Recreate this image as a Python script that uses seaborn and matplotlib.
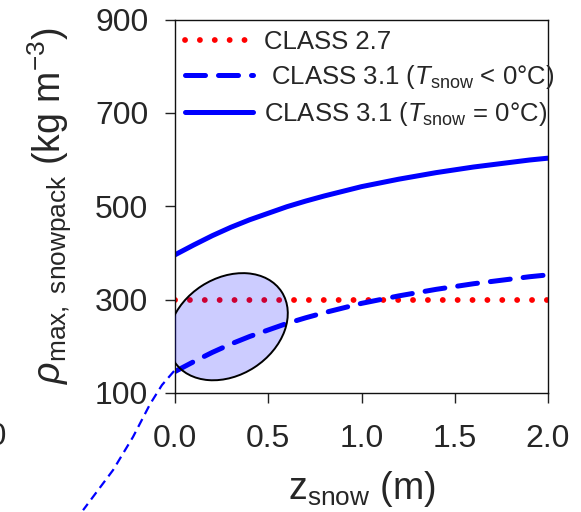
import matplotlib
matplotlib.use("Agg")
import matplotlib.pyplot as plt
import seaborn as sns
import pandas as pd
from matplotlib.patches import Ellipse
from matplotlib.transforms import ScaledTranslation

# ---- data ----
z_snow = [0.0, 0.1, 0.2, 0.3, 0.4, 0.5, 0.6, 0.7, 0.8, 0.9, 1.0,
          1.1, 1.2, 1.3, 1.4, 1.5, 1.6, 1.7, 1.8, 1.9, 2.0]
rho_class27 = [300] * 21
rho_cold = [146, 167, 187, 205, 221, 235, 249, 261, 272, 282, 292,
            300, 308, 315, 322, 328, 334, 339, 344, 349, 353]
rho_wet = [396, 417, 437, 455, 471, 485, 499, 511, 522, 532, 542,
           550, 558, 565, 572, 578, 584, 589, 594, 599, 603]
# thin dashed curve leaking outside the axes (bottom left)
ext_x = [-0.005, -0.070, -0.134, -0.225, -0.332, -0.493]
ext_y = [147, 117, 76, 6, -65, -151]

labels = ["CLASS 2.7",
          r" CLASS 3.1 ($T_{\mathrm{snow}}$ < 0°C)",
          r"CLASS 3.1 ($T_{\mathrm{snow}}$ = 0°C)"]
x_ticks = [0.0, 0.5, 1.0, 1.5, 2.0]
y_ticks = [100, 300, 500, 700, 900]

# ellipse (centre in data units)
ell_center = (0.284, 242)

sns.set_style("ticks")
plt.rcParams["font.family"] = ["Liberation Sans", "DejaVu Sans"]
plt.rcParams["mathtext.fontset"] = "custom"
plt.rcParams["mathtext.rm"] = "Liberation Sans"
plt.rcParams["mathtext.it"] = "Liberation Sans:italic"
plt.rcParams["mathtext.sf"] = "Liberation Sans"

W, H = 581, 512
fig = plt.figure(figsize=(W / 100, H / 100), dpi=100)
ax = fig.add_axes([175 / W, 1 - 393 / H, 373 / W, 373.5 / H])

df = pd.DataFrame({"z": z_snow, "c27": rho_class27,
                   "cold": rho_cold, "wet": rho_wet})

lw = 3.6
sns.lineplot(data=df, x="z", y="c27", ax=ax, color="#ff0000", lw=4.2,
             linestyle=(0, (0.01, 2.54)), dash_capstyle="round",
             label=labels[0])
sns.lineplot(data=df, x="z", y="cold", ax=ax, color="#0000ff", lw=lw,
             linestyle=(0, (4.0, 2.6)), dash_capstyle="round",
             label=labels[1])
sns.lineplot(data=df, x="z", y="wet", ax=ax, color="#0000ff", lw=lw,
             solid_capstyle="round", label=labels[2])

ax.plot(ext_x, ext_y, color="#0000ff", lw=1.6, linestyle=(0, (4, 2.5)),
        clip_on=False)

ax.set_xlim(0, 2)
ax.set_ylim(100, 900)
ax.set_xticks(x_ticks)
ax.set_yticks(y_ticks)
ax.set_xticklabels([f"{v:.1f}" for v in x_ticks])
ax.set_yticklabels([str(v) for v in y_ticks])
ax.tick_params(direction="out", length=7.2, width=1, labelsize=23,
               color="#222222")
ax.tick_params(axis="x", pad=15)
ax.tick_params(axis="y", pad=12)
for s in ax.spines.values():
    s.set_linewidth(1)
    s.set_color("#111111")

ax.set_xlabel(r"z$_{\mathrm{snow}}$ (m)", fontsize=27)
ax.set_ylabel(r"$\rho_{\mathrm{max,\ snowpack}}$ (kg m$^{-3}$)", fontsize=27)
ax.xaxis.set_label_coords(0.5, (393 - 469) / 373.5)
ax.yaxis.set_label_coords((74 - 175) / 373, 0.5)

# ellipse drawn in inches around a data-space centre
trans = fig.dpi_scale_trans + ScaledTranslation(ell_center[0], ell_center[1], ax.transData)
ell = Ellipse((0, 0), 1.28, 0.97, angle=33, transform=trans,
              facecolor=(0, 0, 1, 0.2), edgecolor="black", lw=1.4, zorder=5)
ax.add_patch(ell)

leg = ax.legend(loc="upper left", bbox_to_anchor=(0, 1), borderaxespad=0,
                fontsize=18.5, frameon=False, handlelength=2.65,
                handletextpad=0.4, borderpad=0.4, labelspacing=0.36)

# cut-off tick label of a neighbouring panel at the left edge
fig.text(7 / W, 1 - 437 / H, "2.0", fontsize=23, ha="right", va="center")

fig.savefig("out.png", dpi=100)
